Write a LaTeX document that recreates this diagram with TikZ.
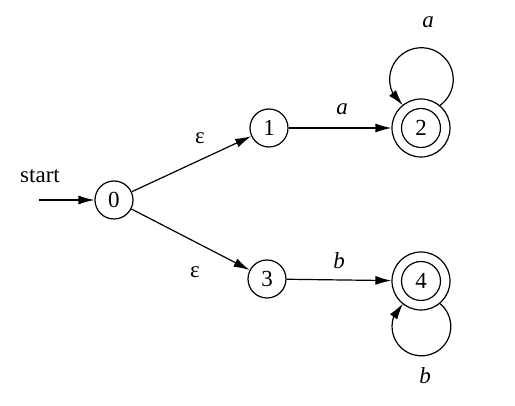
\documentclass[tikz,border=0pt]{standalone}
\usepackage{fontspec}
\setmainfont{Liberation Serif}
\usetikzlibrary{arrows.meta,bending}
\begin{document}
\begin{tikzpicture}[x=0.5pt,y=-0.5pt,
  every node/.style={font=\fontsize{11.5}{14}\selectfont},
  state/.style={circle,draw,line width=0.6pt,minimum size=19pt,inner sep=0pt},
  accepting/.style={circle,draw,line width=0.6pt,minimum size=29pt,inner sep=0pt,
    path picture={\draw[line width=0.6pt] (path picture bounding box.center) circle (9.75pt);}},
  trans/.style={line width=0.6pt,-{Latex[length=8pt,width=4.5pt]}},
  looptrans/.style={line width=0.6pt,-{Latex[length=8pt,width=4.5pt,flex]}},
  lbl/.style={inner sep=0pt}]
\useasboundingbox (0,0) rectangle (515,406);
\node[state] (n0) at (114,200) {0};
\node[state] (n1) at (269,128) {1};
\node[accepting] (n2) at (421,128) {2};
\node[state] (n3) at (267,279) {3};
\node[accepting] (n4) at (421,281) {4};
\coordinate (s) at (39,200);
\node[lbl] (startlbl) at (40,176) {start};
\draw[trans] (s) -- (n0);
\draw[trans] (n0) -- (n1);
\draw[trans] (n0) -- (n3);
\draw[trans] (n1) -- (n2);
\draw[trans] (n3) -- (n4);
\draw[looptrans] (n2.50) arc[start angle=-54.2, end angle=234.2, radius=15.9pt];
\draw[looptrans] (n4.-50) arc[start angle=50.8, end angle=-230.8, radius=14.7pt];
\node[lbl] (e1) at (200,138) {ε};
\node[lbl] (e2) at (195,272) {ε};
\node[lbl] (la) at (342,109) {\textit{a}};
\node[lbl] (lb) at (339,261) {\textit{b}};
\node[lbl] (la2) at (428,22) {\textit{a}};
\node[lbl] (lb2) at (425,376) {\textit{b}};
\end{tikzpicture}
\end{document}
